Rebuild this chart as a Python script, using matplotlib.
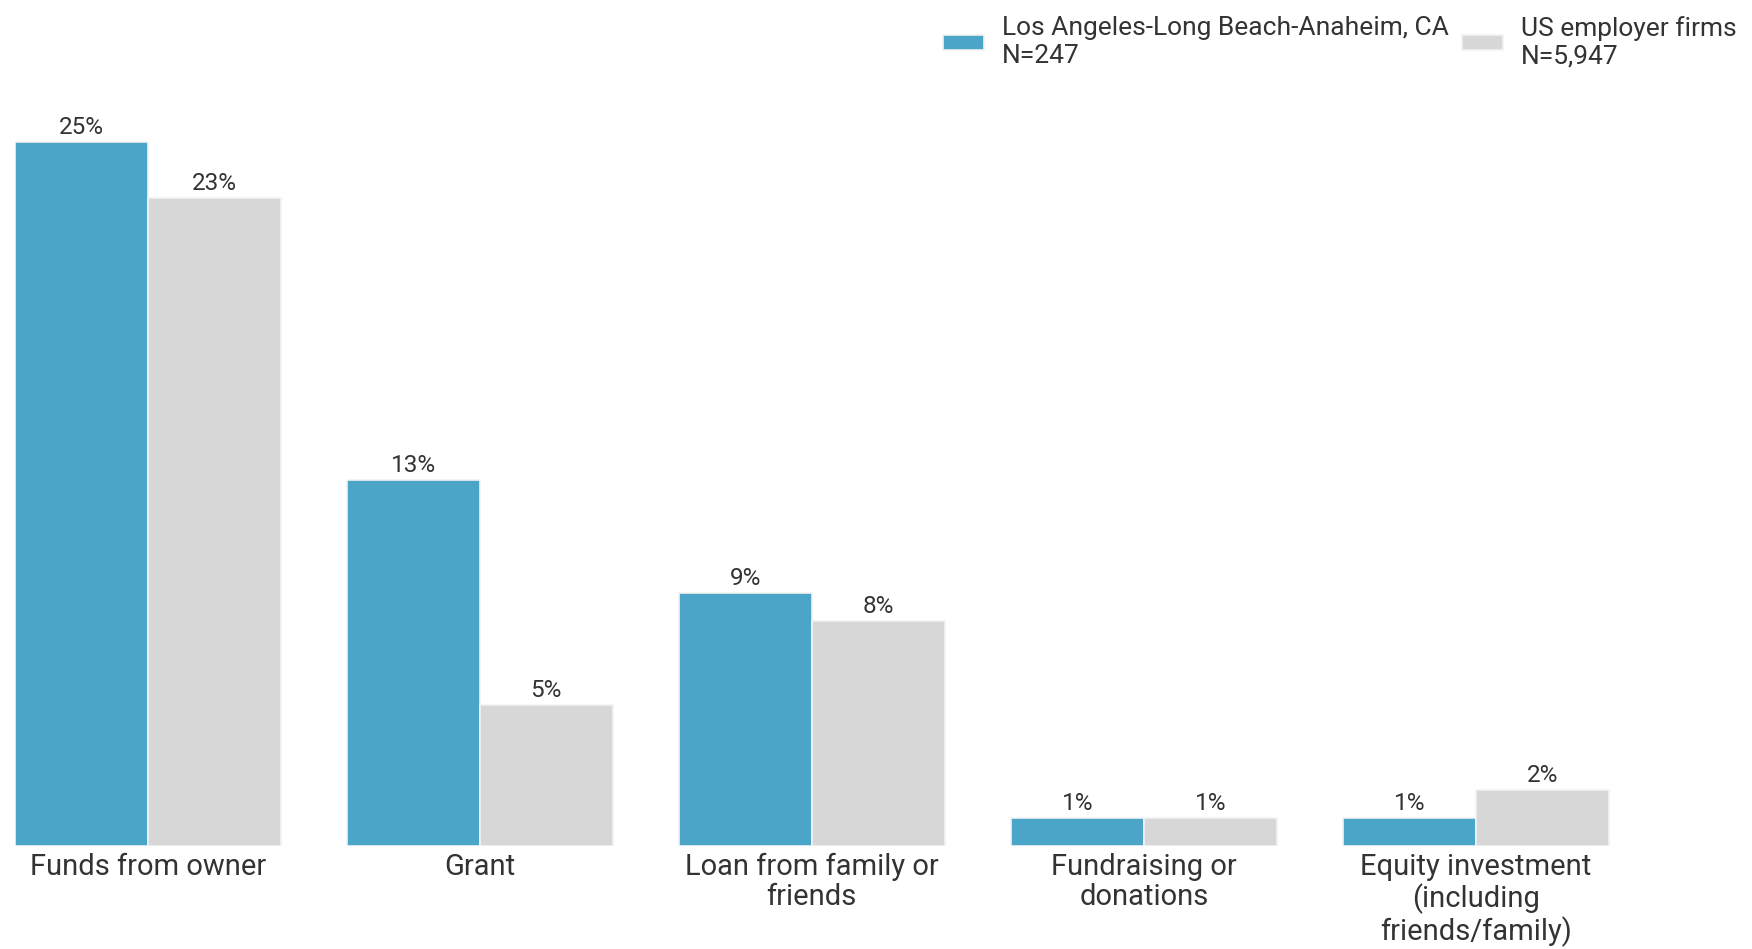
import matplotlib.pyplot as plt
import numpy as np

plt.rcParams['font.family'] = ['Roboto', 'DejaVu Sans']

categories = ["Funds from owner", "Grant", "Loan from family or\nfriends",
              "Fundraising or\ndonations", "Equity investment\n(including\nfriends/family)"]
la_values = [25, 13, 9, 1, 1]
us_values = [23, 5, 8, 1, 2]
series_names = ["Los Angeles-Long Beach-Anaheim, CA\nN=247", "US employer firms\nN=5,947"]

blue = '#4BA5C8'
gray = '#D7D7D7'

fig = plt.figure(figsize=(17.52, 9.49), dpi=100)
ax = fig.add_axes([15 / 1752, 103 / 949, 1660 / 1752, 845 / 949])

x = np.arange(len(categories))
w = 0.4
b1 = ax.bar(x - w / 2, la_values, w, color=blue, edgecolor='#f2f2f2', linewidth=1.2, label=series_names[0])
b2 = ax.bar(x + w / 2, us_values, w, color=gray, edgecolor='#f2f2f2', linewidth=1.2, label=series_names[1])

for bars, vals in [(b1, la_values), (b2, us_values)]:
    for r, v in zip(bars, vals):
        ax.annotate(f"{v}%", (r.get_x() + r.get_width() / 2, r.get_height()),
                    xytext=(0, 2), textcoords='offset points', ha='center', va='bottom',
                    fontsize=17.5, color='#333333')

ax.set_xlim(-0.4, 4.6)
ax.set_ylim(0, 30)
ax.set_xticks(x)
ax.set_xticklabels(categories, fontsize=21, color='#333333', linespacing=1.1)
ax.tick_params(axis='x', length=0, pad=5)
ax.set_yticks([])
for s in ax.spines.values():
    s.set_visible(False)

fig.legend(loc='upper right', bbox_to_anchor=(1.0, 1.0), ncol=2, frameon=False, fontsize=19,
           handlelength=1.55, handleheight=0.5, columnspacing=0.5, handletextpad=0.68,
           borderaxespad=0.2, labelspacing=0.2, labelcolor='#333333')

fig.savefig('out.png', dpi=100)
